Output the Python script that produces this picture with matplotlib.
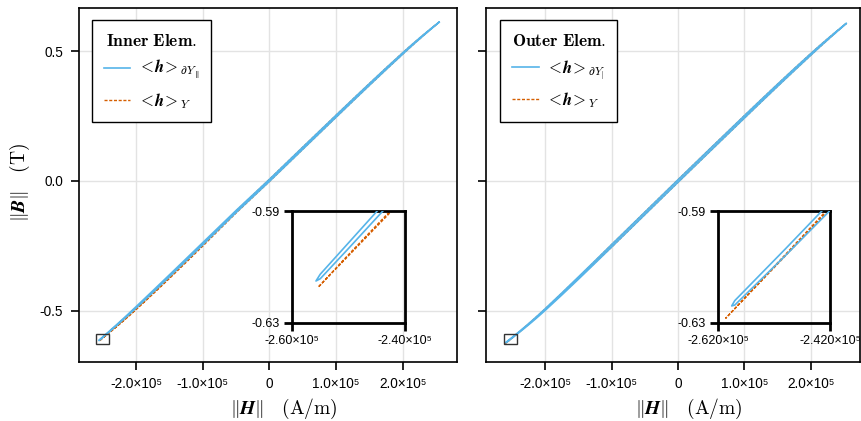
import numpy as np
import matplotlib
matplotlib.use("Agg")
import matplotlib.pyplot as plt
from matplotlib.patches import Rectangle
from matplotlib.lines import Line2D

plt.rcParams['mathtext.fontset'] = 'cm'
plt.rcParams['axes.unicode_minus'] = False
SANS = ['Liberation Sans', 'DejaVu Sans']

BLUE = "#56B4E9"
ORANGE = "#D55E00"
DASH = (0, (2.2, 1.2))

# ---- data: H in units of 1e5 A/m, B in T; each loop = descending (up) + ascending (lo) branch ----
# inner element
in_h = [-2.5575, -2.55, -2.5, -2.4, -2.3, -2.2, -2.1, -2.0, -1.75, -1.5, -1.25, -1.0, -0.5, 0.0,
        0.5, 1.0, 1.25, 1.5, 1.75, 2.0, 2.1, 2.2, 2.3, 2.4, 2.5, 2.546]
in_blue_up = [-0.615, -0.6126, -0.6014, -0.579, -0.5561, -0.5328, -0.509, -0.4848, -0.4237,
              -0.3621, -0.3001, -0.2379, -0.1139, 0.0061, 0.1301, 0.2534, 0.3147, 0.3754,
              0.4354, 0.4941, 0.517, 0.5393, 0.5611, 0.5824, 0.6031, 0.6123]
in_blue_lo = [-0.615, -0.6142, -0.6034, -0.5814, -0.5591, -0.5364, -0.5134, -0.49, -0.4301,
              -0.3693, -0.3077, -0.2459, -0.1219, -0.0019, 0.1221, 0.2458, 0.3075, 0.3688,
              0.4294, 0.4891, 0.5126, 0.5357, 0.5583, 0.5804, 0.6021, 0.6123]
in_orng_h = [-2.5535, -2.5, -2.4, -2.3, -2.2, -2.1, -2.0, -1.75, -1.5, -1.25, -1.0, -0.5, 0.0,
             0.5, 1.0, 1.25, 1.5, 1.75, 2.0, 2.1, 2.2, 2.3, 2.4, 2.5, 2.546]
in_orng_up = [-0.6172, -0.6056, -0.5845, -0.5628, -0.5406, -0.5178, -0.4945, -0.4345, -0.373,
              -0.31, -0.246, -0.116, 0.0061, 0.1301, 0.2534, 0.3147, 0.3754,
              0.4354, 0.4941, 0.517, 0.5393, 0.5611, 0.5824, 0.6031, 0.6123]
in_orng_lo = [-0.6172, -0.606, -0.5851, -0.5636, -0.5416, -0.519, -0.4959, -0.4366, -0.376,
              -0.314, -0.2512, -0.1235, -0.0019, 0.1221, 0.2458, 0.3075, 0.3688,
              0.4294, 0.4891, 0.5126, 0.5357, 0.5583, 0.5804, 0.6021, 0.6123]

# outer element
out_h = [-2.5955, -2.59, -2.5, -2.4, -2.3, -2.2, -2.1, -2.0, -1.75, -1.5, -1.25, -1.0, -0.5, 0.0,
         0.5, 1.0, 1.25, 1.5, 1.75, 2.0, 2.1, 2.2, 2.3, 2.4, 2.5, 2.53]
out_blue_up = [-0.6239, -0.622, -0.6036, -0.5828, -0.5614, -0.5392, -0.5163, -0.4927, -0.432,
               -0.3702, -0.3079, -0.2452, -0.1202, 0.0048, 0.1288, 0.2521, 0.3132, 0.3736,
               0.4332, 0.4916, 0.5144, 0.5367, 0.5586, 0.58, 0.601, 0.607]
out_blue_lo = [-0.6239, -0.6236, -0.606, -0.5858, -0.5652, -0.5438, -0.5217, -0.4989, -0.4396,
               -0.3788, -0.3171, -0.2548, -0.1298, -0.0048, 0.1192, 0.2429, 0.3044, 0.3654,
               0.4258, 0.4854, 0.509, 0.5323, 0.5552, 0.5778, 0.6, 0.607]
out_orng_h = [-2.6062, -2.5, -2.4, -2.3, -2.2, -2.1, -2.0, -1.75, -1.5, -1.25, -1.0, -0.5, 0.0,
              0.5, 1.0, 1.25, 1.5, 1.75, 2.0, 2.1, 2.2, 2.3, 2.4, 2.5, 2.53]
out_orng_up = [-0.6283, -0.6056, -0.5842, -0.5624, -0.54, -0.517, -0.4935, -0.4335, -0.372,
               -0.309, -0.2455, -0.1202, 0.0048, 0.1288, 0.2521, 0.3132, 0.3736,
               0.4332, 0.4916, 0.5144, 0.5367, 0.5586, 0.58, 0.601, 0.607]
out_orng_lo = [-0.6283, -0.6061, -0.5849, -0.5634, -0.5414, -0.5189, -0.4958, -0.4368, -0.3765,
               -0.315, -0.255, -0.1298, -0.0048, 0.1192, 0.2429, 0.3044, 0.3654,
               0.4258, 0.4854, 0.509, 0.5323, 0.5552, 0.5778, 0.6, 0.607]

h_ticks = [-2e5, -1e5, 0, 1e5, 2e5]
h_labels = ["-2.0×10⁵", "-1.0×10⁵", "0", "1.0×10⁵", "2.0×10⁵"]
b_ticks = [-0.5, 0.0, 0.5]
b_labels = ["-0.5", "0.0", "0.5"]
inset_b = [-0.63, -0.59]
inset_b_labels = ["-0.63", "-0.59"]
in_inset_h = [-2.60e5, -2.40e5]
in_inset_labels = ["-2.60×10⁵", "-2.40×10⁵"]
out_inset_h = [-2.62e5, -2.42e5]
out_inset_labels = ["-2.620×10⁵", "-2.420×10⁵"]


def loop(h, up, lo):
    h = np.array(h) * 1e5
    x = np.concatenate([h[::-1], h])
    y = np.concatenate([np.array(up)[::-1], np.array(lo)])
    return x, y


def style(ax, lw, length):
    for s in ax.spines.values():
        s.set_linewidth(lw)
        s.set_color("black")
    ax.tick_params(direction='out', length=length, width=lw, color='black')


def draw_curves(ax, blue, orng):
    ax.plot(*loop(*orng), color=ORANGE, lw=1.0, ls=DASH, zorder=2)
    ax.plot(*loop(*blue), color=BLUE, lw=1.2, zorder=3)


fig = plt.figure(figsize=(8.61, 4.21), dpi=100)

panels = [
    dict(rect=[0.0918, 0.1401, 0.4390, 0.8409], xlim=(-2.855e5, 2.815e5),
         inset=[0.3391, 0.2328, 0.1312, 0.2660], ih=in_inset_h, ihl=in_inset_labels,
         blue=(in_h, in_blue_up, in_blue_lo), orng=(in_orng_h, in_orng_up, in_orng_lo),
         title=r'$\mathbf{Inner\ Elem.}$', lab1=r'$<\!\boldsymbol{h}\!>_{\partial Y_{\parallel}}$',
         lx=0.034, ylabels=True),
    dict(rect=[0.5645, 0.1401, 0.4344, 0.8409], xlim=(-2.89e5, 2.74e5),
         inset=[0.8339, 0.2328, 0.1301, 0.2660], ih=out_inset_h, ihl=out_inset_labels,
         blue=(out_h, out_blue_up, out_blue_lo), orng=(out_orng_h, out_orng_up, out_orng_lo),
         title=r'$\mathbf{Outer\ Elem.}$', lab1=r'$<\!\boldsymbol{h}\!>_{\partial Y_{|}}$',
         lx=0.037, ylabels=False),
]

for p in panels:
    ax = fig.add_axes(p['rect'])
    ax.set_xlim(*p['xlim'])
    ax.set_ylim(-0.698, 0.667)
    ax.grid(True, color='#e3e3e3', lw=1.0, zorder=0)
    ax.set_axisbelow(True)
    draw_curves(ax, p['blue'], p['orng'])
    ax.add_patch(Rectangle((p['ih'][0], inset_b[0]), p['ih'][1] - p['ih'][0],
                           inset_b[1] - inset_b[0], fill=False, ec='#333333', lw=1.0, zorder=4))
    ax.set_xticks(h_ticks)
    ax.set_xticklabels(h_labels, family=SANS, fontsize=9.8)
    ax.set_yticks(b_ticks)
    if p['ylabels']:
        ax.set_yticklabels(b_labels, family=SANS, fontsize=9.8)
        ax.set_ylabel(r'$\Vert\boldsymbol{B}\Vert\quad(\mathrm{T})$', fontsize=14)
        ax.yaxis.set_label_coords(-0.124, 0.506)
    else:
        ax.set_yticklabels([])
    ax.set_xlabel(r'$\Vert\boldsymbol{H}\Vert\quad(\mathrm{A/m})$', fontsize=14)
    ax.xaxis.set_label_coords(0.542, -0.098)
    style(ax, 1.2, 5.5)
    ax.tick_params(axis='x', pad=5)
    ax.tick_params(axis='y', pad=6)

    handles = [Line2D([], [], color=BLUE, lw=1.2),
               Line2D([], [], color=ORANGE, lw=1.0, ls=DASH)]
    leg = ax.legend(handles, [p['lab1'], r'$<\!\boldsymbol{h}\!>_{Y}$'],
                    title=p['title'], title_fontsize=12.5, fontsize=12,
                    loc='upper left', bbox_to_anchor=(p['lx'], 0.966), borderaxespad=0,
                    frameon=True, fancybox=False, edgecolor='black', framealpha=1,
                    handlelength=1.6, handletextpad=0.45, borderpad=0.7, labelspacing=0.5)
    leg.get_frame().set_linewidth(1.0)

    ins = fig.add_axes(p['inset'])
    ins.patch.set_alpha(0)
    draw_curves(ins, p['blue'], p['orng'])
    ins.set_xlim(*p['ih'])
    ins.set_ylim(*inset_b)
    ins.set_xticks(p['ih'])
    ins.set_xticklabels(p['ihl'], family=SANS, fontsize=9)
    ins.set_yticks(inset_b)
    ins.set_yticklabels(inset_b_labels, family=SANS, fontsize=9)
    style(ins, 2.0, 5.5)

fig.savefig("out.png", dpi=100)
